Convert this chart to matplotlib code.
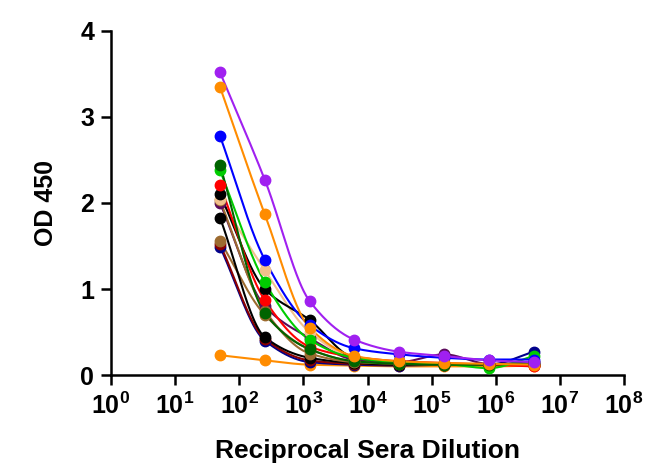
import numpy as np
import matplotlib
matplotlib.use("Agg")
import matplotlib.pyplot as plt
from matplotlib.ticker import FixedLocator, NullLocator

dilutions = [50, 250, 1250, 6250, 31250, 156250, 781250, 3906250]

purple = [3.52, 2.27, 0.86, 0.41, 0.27, 0.22, 0.17, 0.15]
orange = [3.35, 1.87, 0.55, 0.22, 0.16, 0.14, 0.13, 0.12]
blue = [2.78, 1.34, 0.58, 0.31, 0.24, 0.20, 0.18, 0.18]
dark_green = [2.44, 0.72, 0.30, 0.16, 0.13, 0.12, 0.12, 0.15]
green = [2.38, 1.08, 0.41, 0.20, 0.15, 0.13, 0.08, 0.22]
red = [2.21, 0.87, 0.33, 0.21, 0.16, 0.14, 0.12, 0.10]
black_a = [2.10, 1.00, 0.64, 0.20, 0.15, 0.13, 0.12, 0.12]
tan = [2.05, 1.22, 0.50, 0.20, 0.15, 0.13, 0.12, 0.12]
brown_a = [2.03, 0.75, 0.25, 0.15, 0.13, 0.12, 0.12, 0.12]
maroon = [2.00, 0.80, 0.43, 0.18, 0.15, 0.24, 0.13, 0.14]
black_b = [1.83, 0.44, 0.20, 0.14, 0.12, 0.12, 0.12, 0.12]
brown_b = [1.56, 0.70, 0.30, 0.16, 0.13, 0.12, 0.12, 0.13]
dark_red = [1.52, 0.42, 0.17, 0.13, 0.12, 0.12, 0.12, 0.12]
navy = [1.49, 0.40, 0.15, 0.12, 0.11, 0.12, 0.12, 0.27]
orange_low = [0.23, 0.17, 0.12, 0.11, 0.10, 0.10, 0.10, 0.11]

series = [
    (orange_low, "#FF8C00"),
    (navy, "#00008B"),
    (dark_red, "#8B0000"),
    (brown_b, "#9C6B30"),
    (black_b, "#000000"),
    (maroon, "#5C0A5C"),
    (brown_a, "#9C6B30"),
    (tan, "#F2C08C"),
    (black_a, "#000000"),
    (red, "#FF0000"),
    (green, "#00CC00"),
    (dark_green, "#006400"),
    (blue, "#0000FF"),
    (orange, "#FF8C00"),
    (purple, "#A020F0"),
]

x_ticks = [10.0 ** k for k in range(0, 9)]
x_labels = [r"$\mathbf{10^{%d}}$" % k for k in range(0, 9)]
y_ticks = [0, 1, 2, 3, 4]


def pchip(x, y, xn):
    x = np.asarray(x, float); y = np.asarray(y, float)
    h = np.diff(x); d = np.diff(y) / h
    n = len(x); m = np.zeros(n)
    for k in range(1, n - 1):
        if d[k - 1] * d[k] > 0:
            w1 = 2 * h[k] + h[k - 1]; w2 = h[k] + 2 * h[k - 1]
            m[k] = (w1 + w2) / (w1 / d[k - 1] + w2 / d[k])
    m[0] = d[0]; m[-1] = d[-1]
    idx = np.clip(np.searchsorted(x, xn) - 1, 0, n - 2)
    t = (xn - x[idx]) / h[idx]
    h00 = 2 * t**3 - 3 * t**2 + 1; h10 = t**3 - 2 * t**2 + t
    h01 = -2 * t**3 + 3 * t**2; h11 = t**3 - t**2
    return h00 * y[idx] + h10 * h[idx] * m[idx] + h01 * y[idx + 1] + h11 * h[idx] * m[idx + 1]


plt.rcParams["font.family"] = ["Liberation Sans", "DejaVu Sans"]
plt.rcParams["mathtext.fontset"] = "custom"
plt.rcParams["mathtext.rm"] = "Liberation Sans"
plt.rcParams["mathtext.bf"] = "Liberation Sans:bold"

fig = plt.figure(figsize=(6.47, 4.68), dpi=100)
ax = fig.add_axes([0.1716, 0.1987, 0.7929, 0.7351])

lx = np.log10(dilutions)
xs = np.linspace(lx[0], lx[-1], 300)
for vals, col in series:
    ys = pchip(lx, vals, xs)
    ax.plot(10 ** xs, ys, color=col, lw=1.5, zorder=2)
    ax.plot(dilutions, vals, "o", color=col, ms=7.5, mec=col, zorder=3)

ax.set_xscale("log")
ax.set_xlim(1, 1e8)
ax.set_ylim(0, 4)
ax.xaxis.set_major_locator(FixedLocator(x_ticks))
ax.xaxis.set_minor_locator(NullLocator())
ax.set_xticks(x_ticks)
ax.set_xticklabels(x_labels)
ax.set_yticks(y_ticks)
ax.set_yticklabels([str(v) for v in y_ticks])

for s in ["top", "right"]:
    ax.spines[s].set_visible(False)
for s in ["left", "bottom"]:
    ax.spines[s].set_linewidth(1.8)
ax.tick_params(axis="both", which="major", length=7, width=1.8, labelsize=18)
ax.tick_params(axis="x", pad=6)
ax.tick_params(axis="y", pad=5)
for lab in ax.get_yticklabels():
    lab.set_fontweight("bold")
ax.set_xlabel("Reciprocal Sera Dilution", fontsize=19, fontweight="bold", labelpad=14)
ax.set_ylabel("OD 450", fontsize=18, fontweight="bold", labelpad=16)

fig.savefig("out.png", dpi=100)
